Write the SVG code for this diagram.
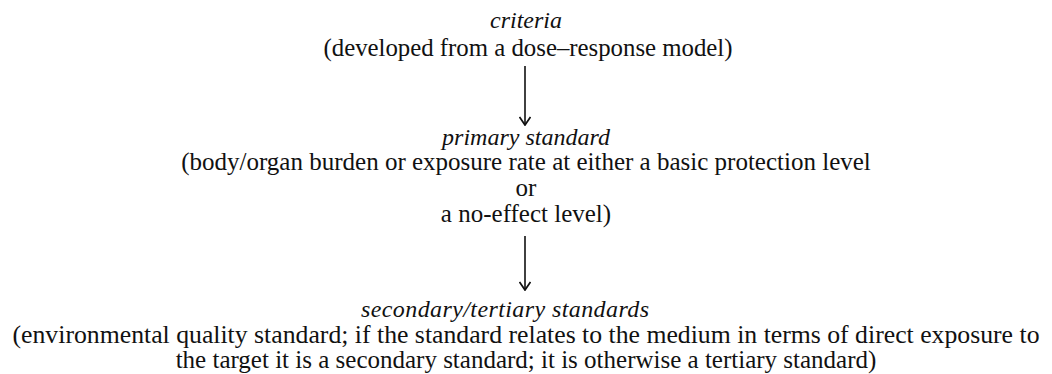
<svg xmlns="http://www.w3.org/2000/svg" width="1052" height="374" viewBox="0 0 1052 374">
  <style>
    .t { font-family: 'Liberation Serif', 'Times New Roman', 'DejaVu Serif', serif; font-size: 25px; fill: #111; text-anchor: middle; }
    .title { font-style: italic; font-size: 24px; }
    .conn { stroke: #111; stroke-width: 1.6; fill: none; }
  </style>
  <defs>
    <marker id="arrow" viewBox="0 0 10 12" refX="9" refY="6" markerWidth="10" markerHeight="12" markerUnits="userSpaceOnUse" orient="auto">
      <path d="M1,0.5 L9,6 L1,11.5" fill="none" stroke="#111" stroke-width="1.8"/>
    </marker>
  </defs>
  <rect width="1052" height="374" fill="#fff"/>

  <g id="criteria">
    <text class="t title" x="526" y="28">criteria</text>
    <text class="t" x="528" y="56" textLength="409" lengthAdjust="spacingAndGlyphs">(developed from a dose–response model)</text>
  </g>

  <g id="primary-standard">
    <text class="t title" x="526" y="145">primary standard</text>
    <text class="t" x="526" y="170">(body/organ burden or exposure rate at either a basic protection level</text>
    <text class="t" x="526" y="196">or</text>
    <text class="t" x="526" y="222">a no-effect level)</text>
  </g>

  <g id="secondary-tertiary-standards">
    <text class="t title" x="505" y="317" textLength="288" lengthAdjust="spacing">secondary/tertiary standards</text>
    <text class="t" x="526" y="343" textLength="1027" lengthAdjust="spacingAndGlyphs">(environmental quality standard; if the standard relates to the medium in terms of direct exposure to</text>
    <text class="t" x="526" y="368">the target it is a secondary standard; it is otherwise a tertiary standard)</text>
  </g>

  <g id="connectors">
    <line class="conn" x1="525" y1="66" x2="525" y2="125" marker-end="url(#arrow)"/>
    <line class="conn" x1="525" y1="236" x2="525" y2="290" marker-end="url(#arrow)"/>
  </g>
</svg>
